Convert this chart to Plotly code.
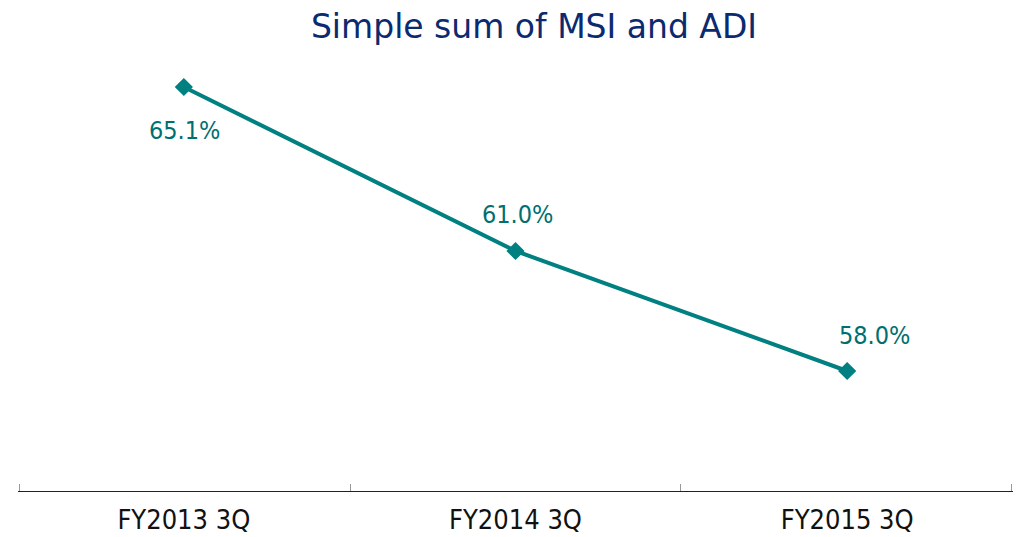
import plotly.graph_objects as go

categories = ["FY2013 3Q", "FY2014 3Q", "FY2015 3Q"]
values = [65.1, 61.0, 58.0]
labels = ["65.1%", "61.0%", "58.0%"]
boundaries = [-0.5, 0.5, 1.5, 2.5]

teal = "#008080"
label_color = "#006f6f"
narrow = "Liberation Sans Narrow, DejaVu Sans Condensed, Arial Narrow, sans-serif"

xpos = list(range(len(categories)))

fig = go.Figure()
fig.add_trace(go.Scatter(
    x=xpos, y=values, mode="lines+markers",
    line=dict(color=teal, width=4),
    marker=dict(symbol="diamond", size=14, color=teal),
    hoverinfo="skip", showlegend=False,
))
# invisible trace to activate boundary-tick axis
fig.add_trace(go.Scatter(x=[boundaries[0], boundaries[-1]], y=[None, None], xaxis="x2",
                         mode="markers", showlegend=False, hoverinfo="skip"))

offsets = [(1, -43), (2, 37), (27, 36)]
for xv, v, t, (dx, dy) in zip(xpos, values, labels, offsets):
    fig.add_annotation(x=xv, y=v, text=t, showarrow=False,
                       xshift=dx, yshift=dy,
                       font=dict(family=narrow, size=25, color=label_color))

# page body has an 8px margin, so the figure is sized 8px smaller
W, H = 1014, 529
eps = 0.004
fig.update_layout(
    width=W, height=H,
    margin=dict(l=10, r=9, t=43, b=46, autoexpand=False),
    paper_bgcolor="white", plot_bgcolor="white",
    title=dict(text="Simple sum of MSI and ADI", x=526/W, xanchor="center",
               y=1 - 18/H, yanchor="middle", xref="container", yref="container",
               font=dict(family="DejaVu Sans, Verdana, sans-serif", size=33, color="#0b2a6f")),
    xaxis=dict(range=[-0.5, 2.5], tickvals=xpos, ticktext=categories,
               ticks="", showline=True, linecolor="#222222", linewidth=1.3,
               showgrid=False, zeroline=False, ticklabelstandoff=4, automargin=False,
               tickfont=dict(family=narrow, size=27, color="#111111")),
    xaxis2=dict(range=[-0.5 - eps, 2.5 + eps], overlaying="x", side="bottom", anchor="y",
                tickvals=boundaries, showticklabels=False,
                ticks="inside", ticklen=7, tickcolor="#999999", tickwidth=1.3,
                showline=False, showgrid=False, zeroline=False, automargin=False),
    yaxis=dict(range=[55, 66], visible=False, showgrid=False, zeroline=False, automargin=False),
)

fig.write_html("out.html")
